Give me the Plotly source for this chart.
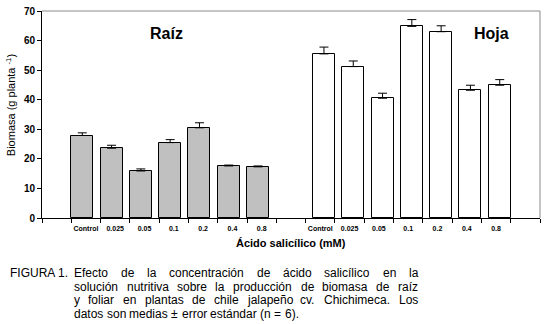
import plotly.graph_objects as go

# ---------------- data ----------------
concentraciones = ["Control", "0.025", "0.05", "0.1", "0.2", "0.4", "0.8"]
raiz_media = [27.9, 23.6, 15.9, 25.5, 30.5, 17.6, 17.3]
raiz_error = [0.9, 1.0, 0.7, 1.0, 1.7, 0.3, 0.3]
hoja_media = [55.5, 51.2, 40.5, 64.8, 63.0, 43.2, 44.9]
hoja_error = [2.3, 1.9, 1.7, 2.3, 2.0, 1.7, 1.9]
y_ticks = [0, 10, 20, 30, 40, 50, 60, 70]

caption_label = "FIGURA 1."
caption_lines = [
    "Efecto de la concentración de ácido salicílico en la",
    "solución nutritiva sobre la producción de biomasa de raíz",
    "y foliar en plantas de chile jalapeño cv. Chichimeca. Los",
    "datos son medias ± error estándar (n = 6).",
]

# ---------------- layout constants ----------------
W, H = 545, 324
ML, MR, MT, MB = 42, 5, 7, 106
PW, PH = W - ML - MR, H - MT - MB
FONT = "Liberation Sans, Arial, sans-serif"

n = len(concentraciones)
raiz_slots = list(range(1, n + 1))          # slot index of each Raíz bar
hoja_slots = list(range(n + 2, 2 * n + 2))  # slot index of each Hoja bar
n_slots = 2 * n + 3

bar_w = 0.75
raiz_x = [s + bar_w / 2 for s in raiz_slots]
hoja_x = [s + 1 - bar_w / 2 for s in hoja_slots]

fig = go.Figure()
fig.add_trace(go.Bar(
    x=raiz_x, y=raiz_media, width=bar_w,
    marker=dict(color="#c0c0c0", line=dict(color="black", width=1)),
    error_y=dict(type="data", symmetric=False, array=raiz_error,
                 arrayminus=[0] * n, color="black", thickness=1, width=4.5),
    showlegend=False, hoverinfo="skip",
))
fig.add_trace(go.Bar(
    x=hoja_x, y=hoja_media, width=bar_w,
    marker=dict(color="white", line=dict(color="black", width=1)),
    error_y=dict(type="data", symmetric=False, array=hoja_error,
                 arrayminus=[0] * n, color="black", thickness=1, width=4.5),
    showlegend=False, hoverinfo="skip",
))

label_vals = [s + 0.5 for s in raiz_slots] + [s + 0.5 for s in hoja_slots]
label_text = concentraciones + concentraciones

fig.update_xaxes(
    range=[0, n_slots], showgrid=False, zeroline=False,
    showline=True, linecolor="black", linewidth=1,
    tickmode="array", tickvals=label_vals, ticktext=label_text,
    ticks="outside", ticklen=4, tickcolor="rgba(0,0,0,0)",
    tickfont=dict(family=FONT, size=7, color="black", weight="bold"),
    minor=dict(tickmode="array", tickvals=list(range(n_slots + 1)),
               ticks="outside", ticklen=4, tickcolor="black", tickwidth=1),
    fixedrange=True,
)
fig.update_yaxes(
    range=[0, 70], showgrid=False, zeroline=False,
    showline=True, linecolor="black", linewidth=1,
    tickmode="array", tickvals=y_ticks,
    ticks="outside", ticklen=4, tickcolor="black",
    tickfont=dict(family=FONT, size=10, color="black", weight="bold"),
    fixedrange=True,
)

# frame (top / right in grey)
fig.add_shape(type="line", xref="paper", yref="paper", x0=0, x1=1, y0=1, y1=1,
              line=dict(color="#8a8a8a", width=1))
fig.add_shape(type="line", xref="paper", yref="paper", x0=1, x1=1, y0=0, y1=1,
              line=dict(color="#8a8a8a", width=1))

def px_x(px):
    return (px - ML) / PW

def px_y(py):
    return (H - MB - py) / PH

annotations = []
# panel titles
annotations.append(dict(x=4.25, y=62.5, xref="x", yref="y", text="<b>Raíz</b>",
                        showarrow=False, font=dict(family=FONT, size=16, color="black")))
annotations.append(dict(x=15.34, y=62.5, xref="x", yref="y", text="<b>Hoja</b>",
                        showarrow=False, font=dict(family=FONT, size=16, color="black")))
# axis titles
annotations.append(dict(x=0.5, y=px_y(243), xref="paper", yref="paper",
                        text="<b>Ácido salicílico (mM)</b>", showarrow=False,
                        xanchor="center", yanchor="middle",
                        font=dict(family=FONT, size=11, color="black")))
annotations.append(dict(x=px_x(11), y=px_y(103), xref="paper", yref="paper",
                        text="Biomasa (g planta <sup>-1</sup>)", showarrow=False,
                        textangle=-90, xanchor="center", yanchor="middle",
                        font=dict(family=FONT, size=11, color="black")))

# caption with justified lines (Arial metrics)
AW = {' ': 278, '(': 333, ')': 333, '.': 278, ',': 278, '=': 584, '±': 584}
for ch in "0123456789":
    AW[ch] = 556
upper = dict(A=667, B=667, C=722, D=722, E=667, F=611, G=778, H=722, I=278, J=500,
             K=667, L=556, M=833, N=722, O=778, P=667, Q=778, R=722, S=667, T=611,
             U=722, V=667, W=944, X=667, Y=667, Z=611)
lower = dict(a=556, b=556, c=500, d=556, e=556, f=278, g=556, h=556, i=222, j=222,
             k=500, l=222, m=833, n=556, o=556, p=556, q=556, r=333, s=500, t=278,
             u=556, v=500, w=722, x=500, y=500, z=500)
AW.update(upper)
AW.update(lower)
AW.update({'á': 556, 'é': 556, 'í': 278, 'ó': 556, 'ú': 556, 'ñ': 556})

CAP_SIZE = 12
CAP_COLOR = "#000000"

def text_w(s):
    return sum(AW.get(c, 556) for c in s) * CAP_SIZE / 1000.0

line_y = [274, 288, 302, 316]
left_x, right_x = 72, 416
annotations.append(dict(x=px_x(8), y=px_y(line_y[0]), xref="paper", yref="paper",
                        text=caption_label, showarrow=False, xanchor="left",
                        yanchor="middle",
                        font=dict(family=FONT, size=CAP_SIZE, color=CAP_COLOR)))
for li, line in enumerate(caption_lines):
    words = line.split(" ")
    if li < len(caption_lines) - 1:
        total = sum(text_w(w) for w in words)
        gap = (right_x - left_x - total) / (len(words) - 1)
    else:
        gap = text_w(" ")
    cx = left_x
    for w in words:
        annotations.append(dict(x=px_x(cx), y=px_y(line_y[li]), xref="paper",
                                yref="paper", text=w, showarrow=False,
                                xanchor="left", yanchor="middle",
                                font=dict(family=FONT, size=CAP_SIZE, color=CAP_COLOR)))
        cx += text_w(w) + gap

fig.update_layout(
    width=W, height=H, autosize=False,
    margin=dict(l=ML, r=MR, t=MT, b=MB, pad=0),
    paper_bgcolor="white", plot_bgcolor="white",
    bargap=0, barmode="overlay",
    font=dict(family=FONT, color="black"),
    annotations=annotations,
    showlegend=False,
)

fig.write_html("out.html", config={"displayModeBar": False},
               post_script="document.body.style.margin='0';document.body.style.padding='0';")
